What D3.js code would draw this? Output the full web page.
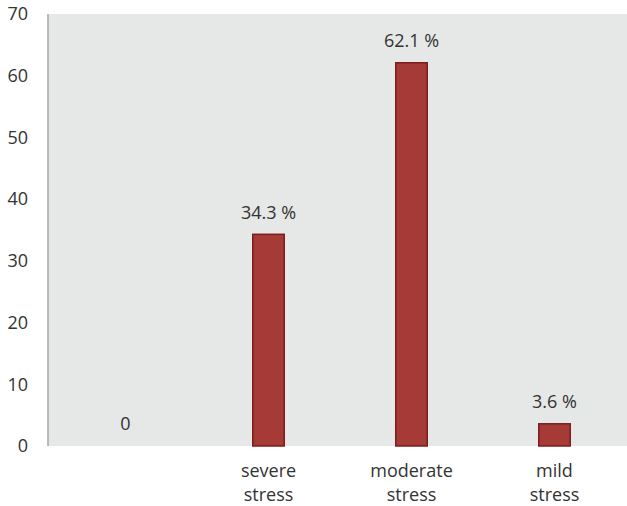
<!DOCTYPE html>
<html lang="en">
<head>
  <meta charset="UTF-8">
  <title>Stress levels</title>
  <script src="https://d3js.org/d3.v7.min.js"></script>
  <style>
    body { margin: 0; background: white; font-family: "Open Sans", sans-serif; }
    svg text { fill: #333; }
  </style>
</head>
<body>
  <svg id="chart" width="627" height="506"></svg>
  <script>
    const categories = ["", "severe stress", "moderate stress", "mild stress"];
    const values = [0, 34.3, 62.1, 3.6];
    const valueLabels = ["0", "34.3 %", "62.1 %", "3.6 %"];
    const yTicks = [0, 10, 20, 30, 40, 50, 60, 70];

    const svg = d3.select("#chart");
    const plotLeft = 48, plotRight = 627, plotTop = 14, plotBottom = 446;

    const x = d3.scaleBand()
      .domain(categories)
      .range([54, 626])
      .paddingInner(0.78)
      .paddingOuter(0.39);

    const y = d3.scaleLinear()
      .domain([0, 70])
      .range([plotBottom, plotTop]);

    // plot background
    svg.append("rect")
      .attr("x", plotLeft)
      .attr("y", plotTop)
      .attr("width", plotRight - plotLeft)
      .attr("height", plotBottom - plotTop)
      .attr("fill", "#e6e7e7");

    // y axis labels
    svg.append("g")
      .selectAll("text")
      .data(yTicks)
      .enter().append("text")
      .attr("x", 28)
      .attr("y", d => y(d))
      .attr("dy", "0.35em")
      .attr("text-anchor", "end")
      .style("font-size", "18px")
      .text(d => d);

    // axis line
    svg.append("line")
      .attr("x1", plotLeft).attr("x2", plotLeft)
      .attr("y1", plotTop).attr("y2", plotBottom)
      .attr("stroke", "#a6a6a6")
      .attr("stroke-width", 1.5);

    const data = categories.map((c, i) => ({ cat: c, value: values[i], label: valueLabels[i] }));

    svg.append("g")
      .selectAll("rect")
      .data(data.filter(d => d.value > 0))
      .enter().append("rect")
      .attr("x", d => x(d.cat))
      .attr("y", d => y(d.value))
      .attr("width", x.bandwidth())
      .attr("height", d => y(0) - y(d.value))
      .attr("fill", "#a63a37")
      .attr("stroke", "#7a1d1b")
      .attr("stroke-width", 1.5);

    svg.append("g")
      .selectAll("text")
      .data(data)
      .enter().append("text")
      .attr("x", d => x(d.cat) + x.bandwidth() / 2)
      .attr("y", d => y(d.value) - 22)
      .attr("dy", "0.35em")
      .attr("text-anchor", "middle")
      .style("font-size", "18px")
      .text(d => d.label);

    // category labels, two lines
    svg.append("g")
      .selectAll("text")
      .data(data)
      .enter().append("text")
      .attr("text-anchor", "middle")
      .style("font-size", "18px")
      .selectAll("tspan")
      .data(d => d.cat.split(" ").filter(w => w).map(w => ({ w, cx: x(d.cat) + x.bandwidth() / 2 })))
      .enter().append("tspan")
      .attr("x", d => d.cx)
      .attr("y", (d, i) => 471 + i * 24)
      .attr("dy", "0.35em")
      .text(d => d.w);
  </script>
</body>
</html>
